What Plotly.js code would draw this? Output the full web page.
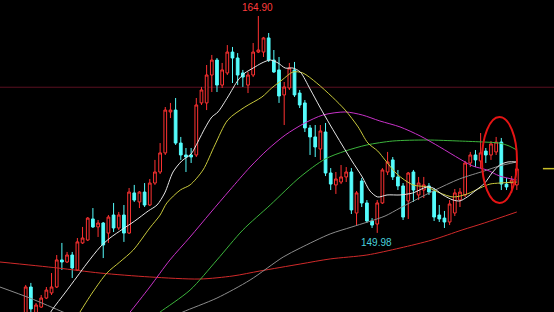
<!DOCTYPE html>
<html>
<head>
<meta charset="utf-8">
<script src="https://cdn.plot.ly/plotly-3.0.1.min.js"></script>
<style>
  html, body { margin: 0; padding: 0; background: #000; }
  #chart { width: 554px; height: 312px; }
</style>
</head>
<body>
<div id="chart"></div>
<script>
// Daily OHLC bars (bar number = position on the time axis)
const openPx = [
  144.30, 146.26, 144.48, 144.88, 145.50, 145.85, 146.26, 148.12, 147.98, 148.46,
  147.43, 149.29, 149.49, 150.94, 150.39, 150.66, 149.97, 151.21, 150.32, 151.21,
  149.97, 152.73, 152.11, 152.79, 151.90, 153.41, 154.17, 155.48, 158.30, 158.43,
  156.16, 155.34, 155.34, 155.34, 158.92, 158.92, 160.84, 161.87, 160.15, 160.98,
  162.42, 162.01, 160.98, 160.15, 160.84, 162.42, 162.42, 163.39, 161.87, 161.19,
  159.47, 159.95, 161.19, 159.60, 158.92, 157.20, 156.58, 155.75, 156.92, 154.10,
  153.28, 153.48, 153.83, 154.17, 151.35, 153.55, 152.04, 150.80, 150.59, 152.04,
  154.17, 155.00, 153.83, 153.21, 152.18, 154.17, 152.59, 152.93, 153.21, 152.86,
  151.21, 151.00, 150.73, 151.35, 152.24, 152.59, 154.79, 155.34, 154.93, 155.61,
  155.34, 155.55, 156.23, 153.34, 153.41, 153.28
];
const highPx = [
  146.40, 146.54, 145.16, 145.71, 146.26, 147.22, 148.46, 149.29, 148.67, 148.67,
  149.63, 150.39, 151.07, 151.69, 150.87, 150.73, 151.21, 152.04, 151.42, 151.90,
  153.07, 153.28, 152.86, 153.41, 153.69, 155.00, 156.16, 158.64, 158.92, 159.26,
  156.58, 155.82, 155.82, 159.26, 160.02, 161.53, 162.22, 162.01, 161.67, 162.90,
  162.77, 162.35, 161.19, 161.05, 163.04, 164.90, 163.46, 163.73, 162.56, 162.08,
  160.36, 161.67, 161.74, 159.81, 159.12, 157.40, 157.40, 157.40, 157.54, 154.44,
  154.17, 154.65, 154.51, 154.44, 152.86, 153.76, 152.24, 151.00, 152.24, 154.44,
  155.55, 155.20, 154.31, 153.41, 154.17, 154.31, 153.83, 153.83, 153.41, 153.07,
  151.90, 151.49, 152.24, 153.00, 153.07, 154.93, 155.55, 155.68, 156.85, 155.82,
  156.30, 156.58, 156.51, 153.76, 153.89, 154.51
];
const lowPx = [
  144.20, 144.40, 144.40, 144.82, 145.43, 145.71, 146.19, 147.43, 147.91, 146.88,
  147.36, 149.22, 149.42, 150.32, 149.70, 148.25, 149.29, 150.04, 150.18, 149.36,
  149.91, 152.11, 151.69, 151.76, 151.83, 153.28, 154.03, 155.34, 157.88, 156.03,
  155.00, 154.17, 154.79, 155.20, 158.78, 158.43, 159.67, 159.67, 159.95, 160.84,
  160.29, 160.15, 160.02, 159.60, 160.70, 162.35, 162.08, 161.74, 160.98, 158.92,
  157.40, 159.81, 159.33, 158.57, 156.92, 155.34, 155.20, 155.00, 153.89, 152.93,
  152.66, 153.34, 153.48, 151.28, 150.52, 151.76, 150.66, 150.32, 149.98, 151.97,
  153.96, 153.62, 152.93, 150.87, 150.94, 152.11, 152.24, 152.38, 152.59, 150.80,
  150.73, 150.32, 150.52, 151.14, 151.76, 152.45, 154.51, 154.51, 154.44, 154.79,
  155.00, 155.34, 152.93, 152.93, 152.73, 152.93
];
const closePx = [
  146.26, 144.75, 145.02, 145.50, 146.05, 146.26, 148.12, 147.98, 148.46, 147.57,
  149.36, 149.63, 151.00, 150.39, 150.66, 149.15, 151.07, 150.32, 151.21, 149.97,
  152.79, 152.24, 152.79, 151.90, 153.41, 154.17, 155.48, 158.43, 158.43, 156.16,
  155.34, 155.20, 155.20, 158.78, 159.81, 160.84, 161.87, 160.15, 161.19, 162.42,
  162.01, 160.84, 160.70, 160.84, 162.42, 162.56, 163.39, 161.87, 161.05, 159.40,
  160.02, 161.32, 159.47, 158.78, 157.20, 156.58, 155.89, 156.99, 154.10, 153.34,
  153.69, 153.83, 154.17, 151.56, 152.73, 152.04, 150.80, 150.52, 152.04, 154.31,
  154.86, 153.83, 153.21, 151.07, 154.10, 152.93, 153.41, 153.28, 152.79, 151.07,
  150.94, 150.73, 151.97, 152.73, 152.79, 154.79, 155.34, 155.00, 155.48, 155.34,
  156.10, 156.23, 153.34, 153.14, 153.62, 154.38
];
const bars = openPx.map((_, i) => i);

// Moving averages, read as (bar, price) pairs
const ma10Bar = [3.7, 5.1, 7.6, 9.9, 11.9, 14.4, 16.3, 18.8, 21.1, 23.7, 25.4, 26.9, 28.5, 30.2, 32.0, 32.9, 34.7, 36.0, 37.2, 39.1, 41.1, 42.4, 44.0, 45.7, 47.3, 48.8, 50.2, 51.7, 53.1, 55.0, 56.9, 58.9, 61.2, 63.1, 65.1, 66.6, 68.1, 69.9, 72.4, 74.9, 77.6, 78.8, 80.7, 82.7, 84.0, 85.4, 86.9, 88.8, 90.2, 91.7, 93.3, 95];
const ma10Val = [143.85, 144.68, 145.85, 146.95, 147.91, 149.01, 149.63, 150.25, 150.80, 151.49, 151.90, 152.73, 154.17, 154.93, 155.41, 155.96, 157.20, 157.95, 158.30, 159.33, 160.50, 160.98, 161.32, 161.67, 161.87, 161.67, 161.32, 161.32, 161.05, 159.88, 158.64, 157.40, 156.03, 154.93, 153.83, 152.86, 152.45, 152.59, 152.59, 152.73, 153.14, 153.07, 152.59, 152.24, 152.18, 152.45, 152.86, 153.41, 154.10, 154.65, 154.86, 154.86];

const ma20Bar = [9.3, 10.5, 13.0, 15.7, 18.2, 20.8, 24.0, 26.0, 27.3, 29.9, 31.8, 34.3, 36.6, 39.1, 42.4, 45.7, 47.6, 49.6, 51.7, 53.6, 56.3, 59.3, 61.8, 64.3, 66.2, 68.1, 69.5, 71.8, 74.9, 77.6, 80.1, 82.7, 85.4, 87.9, 89.8, 91.7, 95];
const ma20Val = [143.85, 144.54, 145.92, 147.22, 147.98, 148.80, 150.32, 151.21, 152.04, 152.93, 153.28, 154.31, 156.03, 157.75, 158.64, 159.33, 159.95, 160.50, 161.05, 160.98, 160.29, 159.33, 158.43, 157.27, 156.16, 155.61, 155.00, 154.03, 153.28, 153.14, 152.73, 152.45, 152.66, 153.07, 153.34, 153.41, 153.48];

const ma30Bar = [19.2, 20.2, 24.0, 27.9, 31.8, 35.7, 39.5, 43.4, 46.7, 50.2, 54.0, 57.5, 61.8, 65.1, 68.5, 72.4, 76.3, 80.1, 84.0, 86.5, 89.2, 91.7, 95];
const ma30Val = [144.13, 144.54, 146.26, 148.12, 149.70, 151.35, 152.93, 154.51, 155.68, 156.71, 157.54, 158.09, 158.30, 158.09, 157.68, 157.27, 156.65, 155.89, 155.06, 154.58, 154.31, 153.89, 153.62];

const ma60Bar = [25.0, 26.0, 31.8, 37.0, 42.0, 47.3, 53.1, 57.9, 61.8, 66.0, 71.0, 77.6, 83.9, 88.7, 91.6, 93.5, 95];
const ma60Val = [144.27, 144.54, 146.05, 148.12, 150.18, 151.90, 153.83, 155.06, 155.61, 156.03, 156.30, 156.37, 156.30, 156.23, 156.16, 155.96, 155.68];

const ma120Bar = [-5.0, 0.8, 7.2, 8.6, null, 28.9, 30.4, 37.0, 43.4, 49.8, 53.1, 58.9, 63.1, 69.5, 72.4, 78.8, 83.9, 88.7, 91.6, 95];
const ma120Val = [146.26, 145.50, 144.54, 144.33, null, 144.27, 144.54, 145.50, 146.74, 148.32, 148.94, 149.91, 150.39, 151.14, 151.69, 152.86, 153.69, 154.24, 154.58, 154.86];

const ma250Bar = [-5.0, 6.1, 14.4, 24.0, 33.7, 40.1, 45.3, 53.1, 58.9, 66.0, 72.4, 78.6, 84.4, 88.7, 95];
const ma250Val = [147.98, 147.57, 147.22, 146.95, 146.81, 147.02, 147.36, 147.84, 148.19, 148.46, 148.94, 149.49, 150.18, 150.66, 151.42];

// Reference levels and marked extremes
const refLevel = 160.00;
const lastPriceTick = 154.40;
const peakBar = 45, peakPrice = 164.90;
const troughBar = 68, troughPrice = 149.98;

const UP = '#ff3232', DOWN = '#54fcfc';

function maTrace(x, y, color) {
  return { type: 'scatter', mode: 'lines', x: x, y: y,
           line: { color: color, width: 1, shape: 'spline', smoothing: 0.8 },
           connectgaps: false, hoverinfo: 'skip', showlegend: false };
}

const traces = [
  maTrace(ma250Bar, ma250Val, '#d02a2a'),
  maTrace(ma120Bar, ma120Val, '#8c8c8c'),
  maTrace(ma60Bar, ma60Val, '#3cb43c'),
  maTrace(ma30Bar, ma30Val, '#c832c8'),
  {
    type: 'candlestick', x: bars,
    open: openPx, high: highPx, low: lowPx, close: closePx,
    increasing: { line: { color: UP, width: 1 }, fillcolor: '#000000' },
    decreasing: { line: { color: DOWN, width: 1 }, fillcolor: DOWN },
    whiskerwidth: 0, hoverinfo: 'skip', showlegend: false
  },
  maTrace(ma20Bar, ma20Val, '#c8c83c'),
  maTrace(ma10Bar, ma10Val, '#e6e6e6')
];

const layout = {
  width: 554, height: 312,
  margin: { l: 0, r: 0, t: 0, b: 0 },
  paper_bgcolor: '#000000', plot_bgcolor: '#000000',
  showlegend: false,
  boxgap: 0.25,
  xaxis: { range: [-4.97, 102.19], visible: false, rangeslider: { visible: false }, fixedrange: true },
  yaxis: { range: [144.54, 166.00], visible: false, fixedrange: true },
  shapes: [
    { type: 'line', xref: 'paper', x0: 0, x1: 1, yref: 'y', y0: refLevel, y1: refLevel,
      line: { color: '#5a1020', width: 1 }, layer: 'below' },
    { type: 'line', xref: 'paper', x0: 0.980, x1: 1, yref: 'y', y0: lastPriceTick, y1: lastPriceTick,
      line: { color: '#c8be28', width: 1.5 } },
    { type: 'circle', xref: 'x', yref: 'y', x0: 88.26, x1: 95.03, y0: 152.04, y1: 157.95,
      line: { color: '#e41414', width: 2 } }
  ],
  annotations: [
    { x: peakBar, y: peakPrice, text: peakPrice.toFixed(2), showarrow: false,
      yanchor: 'bottom', yshift: 1, xshift: -1,
      font: { family: 'Liberation Sans, Arial, sans-serif', size: 10, color: '#ff3c3c' } },
    { x: troughBar, y: troughPrice, text: troughPrice.toFixed(2), showarrow: false,
      yanchor: 'top', yshift: -2, xshift: -1,
      font: { family: 'Liberation Sans, Arial, sans-serif', size: 10, color: '#48d0dc' } }
  ]
};

Plotly.newPlot('chart', traces, layout, { staticPlot: true, displayModeBar: false });
</script>
</body>
</html>
